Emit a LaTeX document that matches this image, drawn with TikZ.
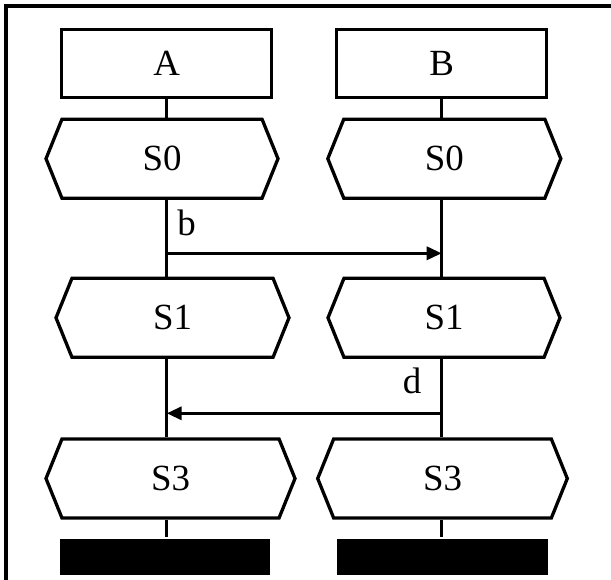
\documentclass[tikz,border=0pt]{standalone}
\usepackage{fontspec}
\setmainfont{Liberation Serif}
\usetikzlibrary{shapes.symbols, arrows.meta}

\begin{document}
\begin{tikzpicture}[x=0.02cm, y=-0.02cm, line width=0.066cm,
    font=\fontsize{21}{25}\selectfont]
    \useasboundingbox (0,0) rectangle (611,580);
    % Frame
    \draw[line width=0.08cm] (611,6.3) -- (6.3,6.3) -- (6.3,580);
    % Instance heads
    \foreach \name/\x in {A/166.7,B/441.7} {
        \node[draw, minimum width=4.2cm, minimum height=1.36cm, inner sep=0pt] (Inst-\name) at (\x,63.8) {\name};
    }
    % States
    \foreach \name/\i/\x/\y/\w in {S0/A/162/158.7/232, S0/B/444.3/158.7/233,
                                   S1/A/172.5/317.8/233, S1/B/444/317.8/232,
                                   S3/A/170.5/478.5/249, S3/B/442.5/478.5/249.6} {
        \node[draw, signal, signal to=east and west, signal pointer angle=136,
              minimum width=\w*0.02cm, minimum height=1.58cm, inner sep=0pt] (\name-\i) at (\x,\y) {\name};
    }
    % Instance ends
    \foreach \i/\x in {A/165,B/442.5} {
        \node[fill=black, minimum width=4.22cm, minimum height=0.72cm, inner sep=0pt] (End-\i) at (\x,557) {};
    }
    % Lifelines
    \foreach \i in {A,B} {
        \draw (Inst-\i.south) -- (Inst-\i.south |- S0-\i.north);
        \draw (Inst-\i.south |- S0-\i.south) -- (Inst-\i.south |- S1-\i.north);
        \draw (Inst-\i.south |- S1-\i.south) -- (Inst-\i.south |- S3-\i.north);
        \draw (Inst-\i.south |- S3-\i.south) -- (Inst-\i.south |- End-\i.north);
    }
    % Messages
    \coordinate (b-send) at (166.7,253.3);
    \coordinate (b-recv) at (441.7,253.3);
    \coordinate (d-send) at (441.7,413.3);
    \coordinate (d-recv) at (166.7,413.3);
    \draw[-{Triangle[length=0.3cm, width=0.26cm]}] (b-send) -- (b-recv);
    \draw[-{Triangle[length=0.3cm, width=0.26cm]}] (d-send) -- (d-recv);
    \node (lbl-b) at (186.5,222.5) {b};
    \node (lbl-d) at (412,381) {d};
\end{tikzpicture}
\end{document}
